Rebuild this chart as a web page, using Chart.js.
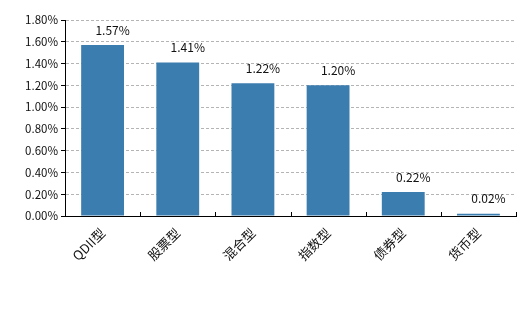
<!DOCTYPE html>
<html lang="zh">
<head>
    <meta charset="UTF-8">
    <title>基金类型收益</title>
    <style>
        html, body { margin: 0; padding: 0; background: #fff; }
        .chart-container { width: 528px; height: 327px; }
    </style>
</head>
<body>
    <div class="chart-container"><canvas id="chart" width="528" height="327"></canvas></div>

    <script src="https://cdn.jsdelivr.net/npm/chart.js"></script>
    <script>
      const categories = ['QDII型', '股票型', '混合型', '指数型', '债券型', '货币型'];
      const returns = [1.57, 1.41, 1.22, 1.20, 0.22, 0.02];
      const yMax = 1.8;
      const yStep = 0.2;

      const fontFamily = '"Noto Sans CJK SC", "DejaVu Sans", sans-serif';

      // value labels above bars (slightly right of centre, as in the original) + inner ticks on x axis
      const extras = {
          id: 'extras',
          afterDatasetsDraw(chart) {
              const ctx = chart.ctx;
              const meta = chart.getDatasetMeta(0);
              ctx.save();
              ctx.font = '12px ' + fontFamily;
              ctx.fillStyle = '#111';
              ctx.textAlign = 'center';
              ctx.textBaseline = 'bottom';
              meta.data.forEach((bar, i) => {
                  ctx.fillText(returns[i].toFixed(2) + '%', bar.x + 10, bar.y - 9);
              });

              const x = chart.scales.x;
              const bottom = chart.chartArea.bottom;
              ctx.strokeStyle = '#000';
              ctx.lineWidth = 1;
              ctx.beginPath();
              for (let i = 1; i <= categories.length; i++) {
                  const px = Math.round(x.getPixelForValue(i - 0.5)) + 0.5;
                  ctx.moveTo(px, bottom);
                  ctx.lineTo(px, bottom - 4);
              }
              ctx.stroke();
              ctx.restore();
          }
      };

      new Chart(document.getElementById('chart').getContext('2d'), {
          type: 'bar',
          data: {
              labels: categories,
              datasets: [{
                  data: returns,
                  backgroundColor: '#3c7daf',
                  categoryPercentage: 1,
                  barPercentage: 0.57
              }]
          },
          options: {
              responsive: false,
              animation: false,
              layout: { padding: { top: 20, right: 12, left: 0, bottom: 0 } },
              plugins: {
                  legend: { display: false },
                  tooltip: { enabled: false }
              },
              scales: {
                  y: {
                      min: 0,
                      max: yMax,
                      afterFit(scale) { scale.width = 65; },
                      ticks: {
                          stepSize: yStep,
                          color: '#111',
                          font: { family: fontFamily, size: 11.5 },
                          padding: 3,
                          callback: v => v.toFixed(2) + '%'
                      },
                      grid: {
                          color: '#b4b4b4',
                          tickColor: '#000',
                          tickBorderDash: [],
                          tickLength: 4
                      },
                      border: { color: '#000', width: 1, dash: [3, 2] }
                  },
                  x: {
                      afterFit(scale) { scale.height = 111; },
                      ticks: {
                          color: '#111',
                          font: { family: fontFamily, size: 13 },
                          minRotation: 45,
                          maxRotation: 45,
                          padding: 1
                      },
                      grid: { display: false },
                      border: { color: '#000', width: 1 }
                  }
              }
          },
          plugins: [extras]
      });
    </script>
</body>
</html>
